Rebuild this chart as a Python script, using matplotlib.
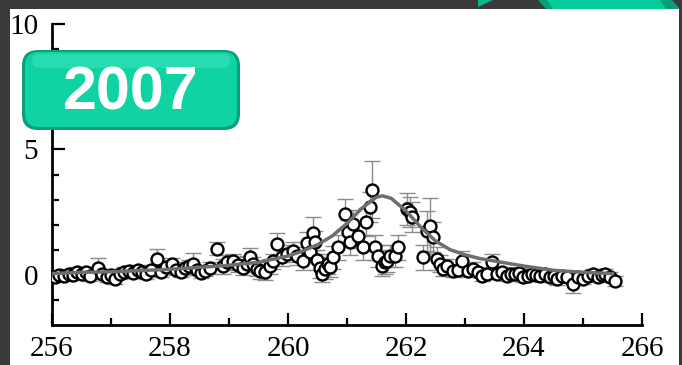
import matplotlib
matplotlib.use('Agg')
import matplotlib.pyplot as plt
from matplotlib.patches import Rectangle, FancyBboxPatch, Polygon

# measured points (x, y, error)
x = [256.05, 256.12, 256.20, 256.28, 256.35, 256.42, 256.50, 256.58, 256.65, 256.78,
     256.85, 256.93, 257.00, 257.07, 257.15, 257.22, 257.30, 257.38, 257.45, 257.52,
     257.60, 257.68, 257.78, 257.85, 257.93, 258.03, 258.10, 258.18, 258.25, 258.32,
     258.39, 258.46, 258.53, 258.60, 258.68, 258.80, 258.90, 258.97, 259.07, 259.15,
     259.24, 259.30, 259.36, 259.41, 259.47, 259.53, 259.61, 259.69, 259.75, 259.81,
     259.90, 259.98, 260.08, 260.15, 260.25, 260.32, 260.37, 260.42, 260.46, 260.49,
     260.54, 260.58, 260.63, 260.68, 260.71, 260.76, 260.85, 260.97, 261.02, 261.05,
     261.10, 261.18, 261.27, 261.33, 261.39, 261.42, 261.47, 261.53, 261.59, 261.64,
     261.68, 261.73, 261.81, 261.86, 262.02, 262.07, 262.10, 262.29, 262.35, 262.41,
     262.46, 262.53, 262.58, 262.63, 262.70, 262.80, 262.88, 262.95, 263.05, 263.14,
     263.22, 263.29, 263.37, 263.46, 263.54, 263.62, 263.71, 263.78, 263.85, 263.92,
     263.98, 264.06, 264.13, 264.20, 264.27, 264.35, 264.44, 264.50, 264.56, 264.65,
     264.73, 264.83, 264.92, 265.00, 265.08, 265.17, 265.25, 265.32, 265.37, 265.45,
     265.54]
y = [-0.10, 0.00, -0.05, 0.05, 0.00, 0.10, 0.02, 0.10, -0.05, 0.28,
     0.05, -0.08, 0.00, -0.15, 0.05, 0.10, 0.15, 0.08, 0.20, 0.12,
     0.05, 0.20, 0.64, 0.12, 0.30, 0.43, 0.20, 0.10, 0.28, 0.35,
     0.43, 0.20, 0.08, 0.15, 0.28, 1.04, 0.35, 0.50, 0.55, 0.40,
     0.28, 0.45, 0.70, 0.43, 0.25, 0.15, 0.10, 0.35, 0.55, 1.23,
     0.70, 0.85, 0.95, 0.75, 0.55, 1.25, 0.90, 1.65, 1.30, 0.60,
     0.28, 0.05, 0.25, 0.45, 0.30, 0.70, 1.10, 2.43, 1.70, 1.30,
     2.03, 1.55, 1.10, 2.10, 2.70, 3.40, 1.10, 0.75, 0.35, 0.50,
     0.55, 0.75, 0.75, 1.10, 2.63, 2.50, 2.30, 0.70, 1.75, 1.95,
     1.50, 0.65, 0.45, 0.25, 0.35, 0.15, 0.20, 0.55, 0.15, 0.25,
     0.10, -0.05, 0.03, 0.50, 0.03, 0.10, -0.03, 0.05, 0.03, 0.08,
     -0.10, -0.05, 0.03, 0.00, -0.03, 0.05, -0.10, -0.05, -0.17, -0.05,
     -0.10, -0.37, -0.10, -0.17, -0.05, 0.03, -0.10, 0.00, 0.03, -0.10,
     -0.25]
err = [0.2, 0.2, 0.2, 0.2, 0.2, 0.2, 0.2, 0.2, 0.2, 0.4,
       0.2, 0.2, 0.2, 0.2, 0.2, 0.2, 0.2, 0.2, 0.2, 0.2,
       0.2, 0.2, 0.4, 0.2, 0.25, 0.25, 0.2, 0.2, 0.25, 0.25,
       0.45, 0.2, 0.2, 0.2, 0.25, 0.25, 0.3, 0.3, 0.3, 0.3,
       0.3, 0.3, 0.35, 0.3, 0.3, 0.3, 0.3, 0.3, 0.3, 0.45,
       0.35, 0.35, 0.35, 0.35, 0.35, 0.45, 0.4, 0.65, 0.45, 0.4,
       0.4, 0.35, 0.4, 0.4, 0.4, 0.45, 0.5, 0.6, 0.5, 0.5,
       0.55, 0.5, 0.5, 0.55, 0.6, 1.15, 0.5, 0.45, 0.4, 0.45,
       0.45, 0.45, 0.45, 0.5, 0.65, 0.6, 0.6, 0.5, 0.8, 1.1,
       0.6, 0.45, 0.35, 0.3, 0.3, 0.25, 0.25, 0.4, 0.25, 0.25,
       0.2, 0.2, 0.2, 0.35, 0.2, 0.2, 0.2, 0.2, 0.2, 0.2,
       0.2, 0.2, 0.2, 0.2, 0.2, 0.2, 0.2, 0.2, 0.25, 0.2,
       0.2, 0.35, 0.2, 0.2, 0.2, 0.2, 0.2, 0.2, 0.2, 0.2,
       0.2]

# fitted curve
fit_x = [256.0, 256.5, 257.0, 257.5, 258.0, 258.5, 259.0, 259.5, 260.0, 260.25,
         260.5, 260.75, 261.0, 261.25, 261.5, 261.6, 261.75, 262.0, 262.25, 262.5,
         262.75, 263.0, 263.25, 263.5, 263.75, 264.0, 264.5, 265.0, 265.5]
fit_y = [0.05, 0.10, 0.12, 0.17, 0.22, 0.30, 0.38, 0.50, 0.75, 0.95,
         1.20, 1.55, 2.05, 2.65, 3.10, 3.15, 3.05, 2.55, 1.90, 1.35,
         1.00, 0.80, 0.65, 0.55, 0.45, 0.35, 0.18, 0.10, 0.05]

year = '2007'

W, H = 682, 365
fig = plt.figure(figsize=(W / 100, H / 100), dpi=100, facecolor='#3a3a3a')
fig.add_artist(Rectangle((10 / W, 0), 669 / W, (H - 9) / H, transform=fig.transFigure,
                         facecolor='white', edgecolor='none', zorder=-5))

ax = fig.add_axes([52 / W, 1 - 325 / H, 590 / W, 301 / H])
ax.set_facecolor('none')
ax.errorbar(x, y, yerr=err, fmt='none', ecolor='#8c8c8c', elinewidth=1.0,
            capsize=6, capthick=1.0, zorder=2)
ax.plot(x, y, 'o', ms=8.6, mfc='white', mec='black', mew=1.7, zorder=3)
ax.plot(fit_x, fit_y, '-', color='#6e6e6e', lw=2.5, zorder=4)

ax.set_xlim(256, 266)
ax.set_ylim(-2, 10)
ax.set_xticks([256, 258, 260, 262, 264, 266])
ax.set_xticks([257, 259, 261, 263, 265], minor=True)
ax.set_yticks([0, 5, 10])
ax.set_yticks([-1, 1, 2, 3, 4, 6, 7, 8, 9], minor=True)
for s in ['top', 'right']:
    ax.spines[s].set_visible(False)
for s in ['left', 'bottom']:
    ax.spines[s].set_linewidth(2.0)
ax.tick_params(which='both', direction='in', width=1.6, color='black')
ax.tick_params(which='major', length=9)
ax.tick_params(which='minor', length=5)
ax.tick_params(axis='x', which='major', pad=8)
ax.tick_params(axis='y', which='major', pad=10)
for lab in ax.get_xticklabels() + ax.get_yticklabels():
    lab.set_fontfamily('Liberation Serif')
    lab.set_fontsize(21)

# overlay for badge and header decoration, in pixel units
ov = fig.add_axes([0, 0, 1, 1], zorder=5)
ov.set_xlim(0, W)
ov.set_ylim(H, 0)
ov.axis('off')
ov.patch.set_alpha(0)

ov.add_patch(Polygon([(538, 0), (672, 0), (680, 9), (546, 9)], closed=True,
                     facecolor='#0b9c79', edgecolor='none'))
ov.add_patch(Polygon([(547, 0), (660, 0), (666, 9), (553, 9)], closed=True,
                     facecolor='#05cc9a', edgecolor='none'))
ov.add_patch(Polygon([(478, 0), (478, 7), (493, 0)], closed=True,
                     facecolor='#05b88b', edgecolor='none'))

ov.add_patch(FancyBboxPatch((22, 50), 218, 80, boxstyle='round,pad=0,rounding_size=16',
                            facecolor='#0a9e7b', edgecolor='none'))
ov.add_patch(FancyBboxPatch((25, 52), 212, 75, boxstyle='round,pad=0,rounding_size=14',
                            facecolor='#0fd3a2', edgecolor='none'))
ov.add_patch(FancyBboxPatch((32, 54), 198, 14, boxstyle='round,pad=0,rounding_size=7',
                            facecolor='#4cebc4', edgecolor='none', alpha=0.4))
ov.text(131, 94, year, color='white', fontsize=44, fontweight='bold',
        family='Liberation Sans', ha='center', va='center')

fig.savefig('out.png', dpi=100, facecolor=fig.get_facecolor())
